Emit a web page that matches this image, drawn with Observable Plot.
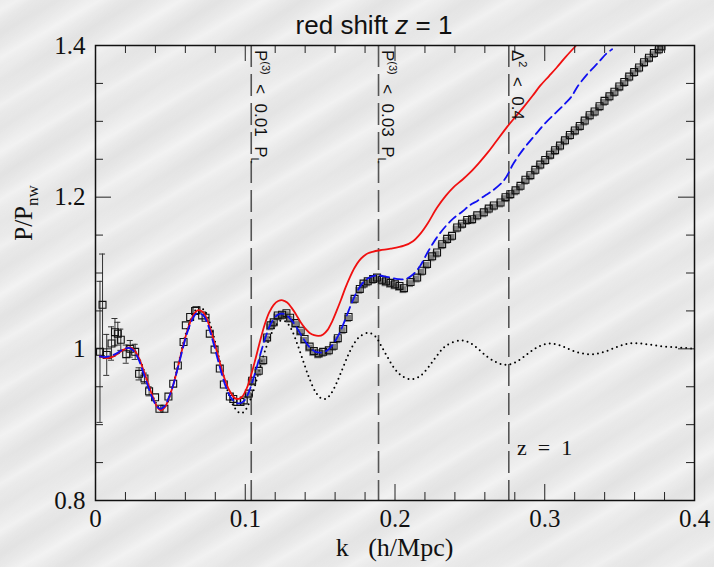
<!DOCTYPE html>
<html><head><meta charset="utf-8">
<script src="https://cdn.jsdelivr.net/npm/d3@7"></script>
<script src="https://cdn.jsdelivr.net/npm/@observablehq/plot@0.6"></script>
<style>
html,body{margin:0;padding:0;}
body{width:714px;height:567px;overflow:hidden;background:#ececec;
 background-image:repeating-linear-gradient(150deg,rgba(255,255,255,0) 0px,rgba(255,255,255,0.35) 9px,rgba(255,255,255,0) 17px,rgba(0,0,0,0.025) 29px,rgba(255,255,255,0) 41px),
 repeating-linear-gradient(140deg,rgba(0,0,0,0) 0px,rgba(0,0,0,0.02) 23px,rgba(0,0,0,0) 57px);}
#wrap{position:relative;width:714px;height:567px;}
#title{position:absolute;left:0;top:10px;width:748px;text-align:center;font:26px "Liberation Sans",Arial,sans-serif;color:#111;z-index:2;}
#chart svg{display:block;}
</style></head>
<body><div id="wrap"><div id="title">red shift <i>z</i> = 1</div><div id="chart"></div></div>
<script>
// ---- data ----
const dataK = [0.003,0.0047,0.0075,0.0107,0.013,0.0149,0.0169,0.0205,0.0232,0.0265,0.0291,0.0327,0.0358,0.0398,0.0427,0.046,0.0487,0.0519,0.055,0.0588,0.0603,0.0632,0.0665,
 0.0674,0.0712,0.0735,0.0763,0.0795,0.083,0.0857,0.0897,0.092,0.0946,0.0968,0.099,0.1024,0.1046,0.109,0.112,0.1146,0.1169,0.119,0.1217,0.1246,0.1275,0.130,0.1336,
 0.137,0.1396,0.143,0.1458,0.149,0.152,0.1558,0.159,0.1618,0.1654,0.169,0.173,0.1765,0.179,0.1818,0.1854,0.188,0.1914,0.194,0.197,0.200,0.203,0.206,
 0.2104,0.2148,0.2181,0.2214,0.2248,0.2281,0.2315,0.2348,0.2381,0.2415,0.2448,0.2482,0.2515,0.2549,0.2593,0.2626,0.266,0.2705,0.2738,0.277,
 0.2805,0.2838,0.2871,0.2904,0.2937,0.297,0.3003,0.3036,0.3069,0.3102,0.3135,0.3168,0.3201,0.3234,0.3267,0.33,0.3333,0.3366,0.3399,0.3432,
 0.3465,0.3498,0.3531,0.3564,0.3597,0.363,0.3663,0.3696,0.3729,0.3762,0.378];
const dataP = [0.996,1.058,0.992,1.007,1.022,1.020,1.012,0.993,1.000,0.996,0.967,0.961,0.944,0.936,0.921,0.921,0.937,0.954,0.978,1.009,1.031,1.042,1.050,
 1.051,1.044,1.041,1.020,0.999,0.974,0.953,0.937,0.934,0.930,0.930,0.932,0.941,0.958,0.971,0.985,1.015,1.031,1.035,1.044,1.045,1.047,1.041,1.034,
 1.024,1.013,1.003,0.997,0.994,0.996,0.998,1.004,1.014,1.026,1.042,1.066,1.079,1.086,1.089,1.092,1.094,1.091,1.089,1.087,1.085,1.083,1.080,
 1.088,1.094,1.103,1.112,1.122,1.127,1.138,1.145,1.149,1.160,1.165,1.170,1.171,1.176,1.180,1.185,1.189,1.193,1.200,1.204,
 1.209,1.215,1.223,1.229,1.236,1.243,1.249,1.256,1.262,1.268,1.275,1.282,1.288,1.294,1.301,1.308,1.313,1.320,1.327,1.333,
 1.339,1.346,1.352,1.359,1.365,1.371,1.378,1.384,1.390,1.395,1.399];
const dataErr = [0.093,0.067,0.027,0.022,0.018,0.015,0.014,0.012,0.011,0.010,0.008,0.007,0.006];

const redK = [0.003,0.006,0.009,0.012,0.015,0.018,0.021,0.023,0.026,0.029,0.032,0.035,0.038,0.041,0.0435,0.046,0.049,0.052,0.055,0.058,0.061,0.064,0.067,0.069,0.072,0.075,0.078,0.081,0.084,0.087,0.090,0.093,0.0957,0.098,0.101,0.104,0.107,0.110,0.113,0.116,0.119,0.122,0.125,0.128,0.131,0.134,0.137,0.140,0.143,0.146,0.149,0.152,0.155,0.158,0.161,0.164,0.167,0.170,0.173,0.176,0.179,0.182,0.185,0.19,0.197,0.206,0.212,0.217,0.222,0.228,0.234,0.239,0.245,0.2504,0.256,0.2616,0.267,0.275,0.280,0.286,0.292,0.297,0.303,0.308,0.314,0.3205];
const redP = [0.990,0.988,0.988,0.990,0.994,0.998,1.001,1.002,0.998,0.988,0.972,0.955,0.938,0.924,0.919,0.922,0.935,0.953,0.976,1.000,1.022,1.039,1.049,1.051,1.048,1.036,1.018,0.997,0.975,0.956,0.943,0.935,0.934,0.937,0.948,0.966,0.988,1.011,1.032,1.048,1.058,1.063,1.064,1.061,1.054,1.045,1.035,1.027,1.021,1.018,1.017,1.019,1.025,1.036,1.050,1.065,1.081,1.095,1.107,1.116,1.122,1.126,1.128,1.130,1.132,1.136,1.142,1.152,1.166,1.186,1.202,1.213,1.223,1.233,1.245,1.258,1.272,1.293,1.305,1.319,1.334,1.347,1.360,1.371,1.385,1.399];

const blueK = [0.003,0.006,0.009,0.012,0.015,0.018,0.021,0.023,0.026,0.029,0.032,0.035,0.038,0.041,0.0435,0.046,0.049,0.052,0.055,0.058,0.061,0.064,0.067,0.069,0.072,0.075,0.078,0.081,0.084,0.087,0.090,0.093,0.096,0.099,0.102,0.105,0.108,0.111,0.114,0.117,0.120,0.123,0.126,0.129,0.132,0.135,0.138,0.141,0.144,0.147,0.150,0.153,0.156,0.159,0.162,0.165,0.168,0.171,0.174,0.177,0.180,0.184,0.188,0.192,0.197,0.202,0.207,0.212,0.217,0.222,0.228,0.234,0.239,0.245,0.2504,0.255,0.260,0.264,0.2727,0.2793,0.286,0.2927,0.3005,0.3083,0.3139,0.318,0.3216,0.3283,0.336,0.341,0.345];
const blueP = [0.990,0.989,0.990,0.992,0.995,0.999,1.001,1.001,0.996,0.985,0.968,0.951,0.935,0.924,0.921,0.924,0.936,0.953,0.975,0.998,1.020,1.036,1.046,1.047,1.044,1.032,1.013,0.991,0.969,0.950,0.937,0.930,0.928,0.931,0.941,0.958,0.978,0.999,1.018,1.033,1.042,1.046,1.046,1.042,1.035,1.026,1.016,1.007,1.000,0.996,0.995,0.996,1.000,1.007,1.017,1.030,1.045,1.060,1.073,1.083,1.090,1.095,1.097,1.096,1.094,1.092,1.092,1.098,1.110,1.128,1.147,1.162,1.172,1.181,1.190,1.195,1.202,1.207,1.222,1.245,1.264,1.280,1.298,1.313,1.324,1.333,1.345,1.362,1.378,1.389,1.395];

const linK = [0.003,0.008,0.013,0.018,0.022,0.026,0.030,0.035,0.040,0.0435,0.047,0.050,0.055,0.060,0.065,0.069,0.073,0.077,0.081,0.085,0.089,0.093,0.0968,0.100,0.104,0.108,0.112,0.116,0.120,0.1235,0.127,0.131,0.135,0.139,0.143,0.147,0.1505,0.1536,0.157,0.161,0.165,0.169,0.173,0.177,0.1825,0.187,0.191,0.195,0.199,0.204,0.210,0.216,0.222,0.228,0.234,0.2437,0.250,0.256,0.262,0.268,0.2735,0.279,0.285,0.291,0.297,0.304,0.311,0.318,0.325,0.333,0.341,0.349,0.356,0.364,0.372,0.380,0.388,0.395,0.400];
const linP = [0.990,0.988,0.991,0.998,1.002,0.998,0.984,0.955,0.930,0.920,0.925,0.940,0.977,1.018,1.045,1.055,1.050,1.030,1.000,0.968,0.940,0.922,0.915,0.919,0.936,0.962,0.990,1.013,1.030,1.037,1.036,1.025,1.005,0.982,0.960,0.943,0.935,0.934,0.940,0.955,0.974,0.993,1.008,1.017,1.021,1.016,1.003,0.989,0.976,0.965,0.960,0.963,0.975,0.991,1.004,1.011,1.008,0.999,0.989,0.982,0.979,0.981,0.988,0.997,1.004,1.007,1.004,0.998,0.994,0.993,0.997,1.003,1.007,1.007,1.005,1.003,1.002,1.001,1.000];

const cutK = [0.104, 0.189, 0.276];
const cutLabels = [["P","(3)"," < 0.01 ","P","L"],["P","(3)"," < 0.03 ","P","L"],["Δ","2"," < 0.4","",""]];

const xTickLabels = [0, 0.1, 0.2, 0.3, 0.4];
const yTickLabels = [0.8, 1.0, 1.2, 1.4];
const xMinorTicks = [0.02,0.04,0.06,0.08,0.12,0.14,0.16,0.18,0.22,0.24,0.26,0.28,0.32,0.34,0.36,0.38];
const yMinorTicks = [0.85,0.9,0.95,1.05,1.1,1.15,1.25,1.3,1.35];

const xLabelText = "k\u00a0\u00a0\u00a0(h/Mpc)";
const zText = "z\u00a0\u00a0=\u00a0\u00a01";

// ---- build ----
const W = 714, H = 567, mL = 95, mR = 20, mT = 45, mB = 67;
const fw = W - mL - mR, fh = H - mT - mB;
const pts = dataK.map((k, i) => ({k, P: dataP[i], e: dataErr[i] || 0}));
const errPts = pts.filter(d => d.e > 0);
const red = redK.map((k, i) => ({k, P: redP[i]}));
const blue = blueK.map((k, i) => ({k, P: blueP[i]}));
const lin = linK.map((k, i) => ({k, P: linP[i]}));
const fmt = d => String(+(+d).toFixed(1));

const plot = Plot.plot({
  width: W, height: H, marginLeft: mL, marginRight: mR, marginTop: mT, marginBottom: mB,
  style: {background: "transparent", fontFamily: '"Liberation Serif", "Times New Roman", serif', fontSize: "25px", color: "#111", overflow: "visible"},
  x: {domain: [0, 0.4]},
  y: {domain: [0.8, 1.4]},
  marks: [
    Plot.ruleX(cutK, {x: d => d, stroke: "#555", strokeWidth: 1.6, strokeDasharray: "22 7"}),
    Plot.ruleX(errPts, {x: "k", y1: d => d.P - d.e, y2: d => d.P + d.e, stroke: "#333", strokeWidth: 1}),
    Plot.ruleY(errPts, {x1: "k", x2: "k", y: d => d.P - d.e, insetLeft: -3, insetRight: -3, stroke: "#333", strokeWidth: 1}),
    Plot.ruleY(errPts, {x1: "k", x2: "k", y: d => d.P + d.e, insetLeft: -3, insetRight: -3, stroke: "#333", strokeWidth: 1}),
    Plot.line(lin, {x: "k", y: "P", stroke: "black", strokeWidth: 2, strokeDasharray: "0 5", strokeLinecap: "round", curve: "catmull-rom", clip: true}),
    Plot.dot(pts.filter(d => d.k > 0.1), {x: "k", y: "P", symbol: "square", r: 3.9, fill: "#555", fillOpacity: 0.7, stroke: "none", dx: -1, dy: 1.5, clip: true}),
    Plot.dot(pts, {x: "k", y: "P", symbol: "square", r: 3.9, fill: "none", stroke: "#111", strokeWidth: 1.1, clip: true}),
    Plot.line(red, {x: "k", y: "P", stroke: "#f01010", strokeWidth: 1.8, curve: "catmull-rom", clip: true}),
    Plot.line(blue, {x: "k", y: "P", stroke: "#1010f0", strokeWidth: 1.8, strokeDasharray: "9 5", curve: "catmull-rom", clip: true}),
    // inward ticks on all four sides
    Plot.tickX(xMinorTicks, {x: d => d, insetTop: fh - 8, stroke: "#222"}),
    Plot.tickX(xTickLabels, {x: d => d, insetTop: fh - 16, stroke: "#222"}),
    Plot.tickX(xMinorTicks, {x: d => d, insetBottom: fh - 8, stroke: "#222"}),
    Plot.tickX(xTickLabels, {x: d => d, insetBottom: fh - 16, stroke: "#222"}),
    Plot.tickY(yMinorTicks, {y: d => d, insetRight: fw - 8, stroke: "#222"}),
    Plot.tickY(yTickLabels, {y: d => d, insetRight: fw - 16, stroke: "#222"}),
    Plot.tickY(yMinorTicks, {y: d => d, insetLeft: fw - 8, stroke: "#222"}),
    Plot.tickY(yTickLabels, {y: d => d, insetLeft: fw - 16, stroke: "#222"}),
    Plot.axisX(xTickLabels, {anchor: "bottom", tickSize: 0, tickPadding: 9, tickFormat: fmt, label: null}),
    Plot.axisY(yTickLabels, {anchor: "left", tickSize: 0, tickPadding: 10, tickFormat: fmt, label: null}),
    Plot.frame({stroke: "#111", strokeWidth: 1.5})
  ]
});
document.getElementById("chart").appendChild(plot);

const svg = d3.select(plot);
const sx = plot.scale("x"), sy = plot.scale("y");

// labels along the cut lines (rotated, with super/subscripts)
cutK.forEach((k, i) => {
  const [a, sup, mid, b, sub] = cutLabels[i];
  const t = svg.append("text")
    .attr("transform", `translate(${sx.apply(k) + 4},${sy.apply(1.4) + 5}) rotate(90)`)
    .attr("text-anchor", "start")
    .attr("font-family", '"Liberation Sans", Arial, sans-serif')
    .attr("font-size", 17).attr("fill", "#111").style("white-space", "pre");
  t.append("tspan").text(a);
  t.append("tspan").attr("font-size", 11).attr("dy", -7).text(sup);
  t.append("tspan").attr("dy", 7).text(mid.replace(/ /g, "\u00a0\u00a0"));
  if (b) {
    t.append("tspan").text(b);
    t.append("tspan").attr("font-size", 11).attr("dy", 4).text(sub);
  }
});

// z = 1 annotation
svg.append("text").attr("x", sx.apply(0.2818)).attr("y", sy.apply(0.8593))
  .attr("text-anchor", "start").attr("font-size", 22).attr("fill", "#111").text(zText);

// axis titles
svg.append("text").attr("x", (sx.apply(0) + sx.apply(0.4)) / 2).attr("y", 556)
  .attr("text-anchor", "middle").attr("font-size", 26).attr("fill", "#111").text(xLabelText);
const yl = svg.append("text").attr("transform", "translate(32,213) rotate(-90)")
  .attr("text-anchor", "middle").attr("font-size", 25).attr("fill", "#111");
yl.append("tspan").text("P/P");
yl.append("tspan").attr("font-size", 17).attr("dy", 6).text("nw");
</script>
</body></html>
